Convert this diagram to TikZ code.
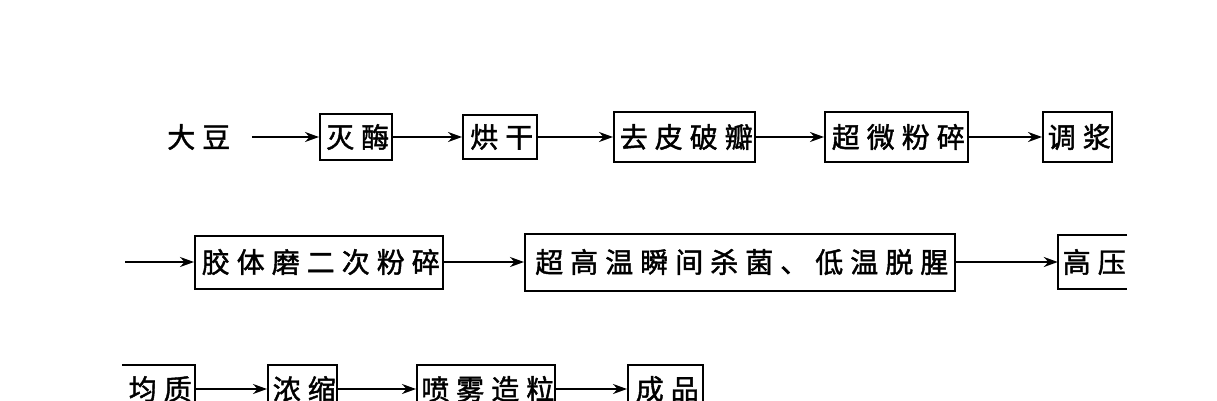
\documentclass[tikz,border=0pt]{standalone}
\usepackage{fontspec}
\newfontfamily\cjk[LetterSpace=25, FakeBold=1.5]{Noto Sans CJK SC}
\usetikzlibrary{arrows.meta}
\begin{document}
\begin{tikzpicture}[x=1pt,y=-1pt,
  lbl/.style={inner sep=0pt, font=\cjk\fontsize{28}{28}\selectfont, execute at end node={\kern-3.5pt}},
  box/.style={lbl, draw, line width=2pt},
  open/.style={lbl, draw=none},
  edge/.style={line width=2pt},
  flow/.style={line width=2pt, -{Stealth[length=14pt,width=10pt]}}]
\useasboundingbox (0,0) rectangle (1217,400);
\clip (0,0) rectangle (1217,400);
% row 1
\node[lbl] (dadou) at (197,137) {大豆};
\node[box, minimum width=72pt, minimum height=46pt] (miemei) at (356,137) {灭酶};
\node[box, minimum width=74pt, minimum height=44pt] (honggan) at (500,137) {烘干};
\node[box, minimum width=141pt, minimum height=50pt] (qupi) at (684.5,137) {去皮破瓣};
\node[box, minimum width=143pt, minimum height=50pt] (chaowei) at (896.5,137) {超微粉碎};
\node[box, minimum width=69pt, minimum height=50pt] (tiaojiang) at (1077.5,137) {调浆};
\draw[flow, shorten <=25pt] (dadou.east) -- (miemei.west);
\draw[flow] (miemei.east) -- (honggan.west);
\draw[flow] (honggan.east) -- (qupi.west);
\draw[flow] (qupi.east) -- (chaowei.west);
\draw[flow] (chaowei.east) -- (tiaojiang.west);
% row 2
\coordinate (r2start) at (125,262);
\node[box, minimum width=248pt, minimum height=53pt] (jiaoti) at (319,262) {胶体磨二次粉碎};
\node[box, minimum width=430pt, minimum height=57pt] (chaogao) at (740,262) {超高温瞬间杀菌、低温脱腥};
\node[open, minimum width=69pt, minimum height=54pt] (gaoya) at (1092.5,262) {高压};
\draw[edge] (gaoya.north east) -- (gaoya.north west) -- (gaoya.south west) -- (gaoya.south east);
\draw[flow] (r2start) -- (jiaoti.west);
\draw[flow] (jiaoti.east) -- (chaogao.west);
\draw[flow] (chaogao.east) -- (gaoya.west);
% row 3
\node[open, minimum width=73pt, minimum height=48pt] (junzhi) at (158.5,389) {均质};
\draw[edge] (junzhi.north west) -- (junzhi.north east) -- (junzhi.south east) -- (junzhi.south west);
\node[box, minimum width=69pt, minimum height=48pt] (nongsuo) at (302.5,389) {浓缩};
\node[box, minimum width=138pt, minimum height=48pt] (penwu) at (486,389) {喷雾造粒};
\node[box, minimum width=75pt, minimum height=48pt] (chengpin) at (665.5,389) {成品};
\draw[flow] (junzhi.east) -- (nongsuo.west);
\draw[flow] (nongsuo.east) -- (penwu.west);
\draw[flow] (penwu.east) -- (chengpin.west);
\end{tikzpicture}
\end{document}
